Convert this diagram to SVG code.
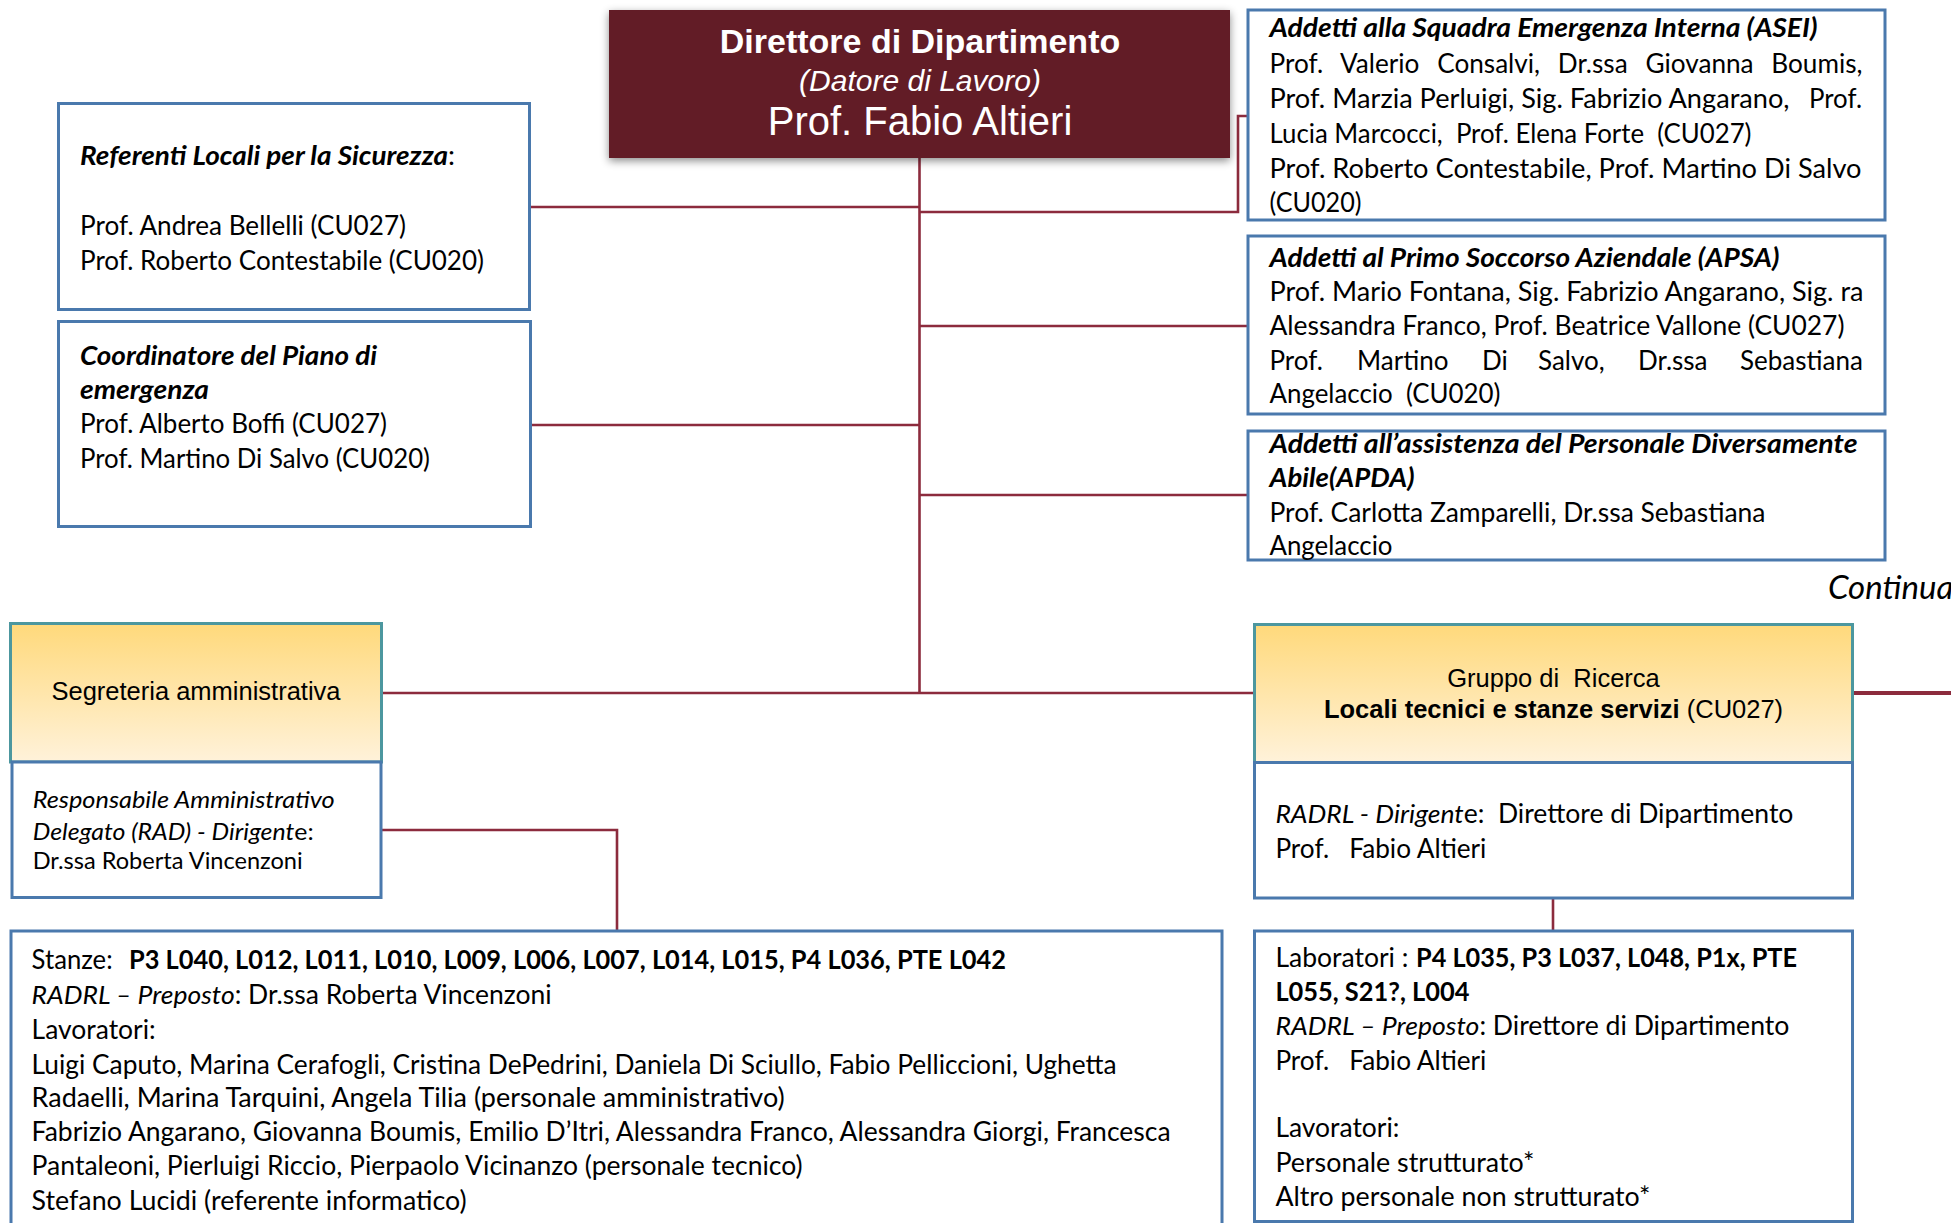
<svg xmlns="http://www.w3.org/2000/svg" width="1951" height="1223" viewBox="0 0 1951 1223">
<style>
.box{fill:#fff;stroke:#4A79AD;stroke-width:3}
.gbox{fill:url(#gold);stroke:#4C979F;stroke-width:3}
.con{fill:none;stroke:#8C2B3D;stroke-width:2.6}
.c{font-family:"Lato","Noto Sans",sans-serif;font-size:26px;fill:#000}
.cs{font-family:"Lato","Noto Sans",sans-serif;font-size:22.5px;fill:#000}
.a{font-family:"Liberation Sans",Arial,sans-serif;fill:#000}
.w{fill:#fff}
.b{font-weight:bold}
.i{font-style:italic}
.n{font-style:normal;font-weight:normal}
</style>
<defs>
<linearGradient id="gold" x1="0" y1="0" x2="0" y2="1">
<stop offset="0" stop-color="#FFD97B"/>
<stop offset="1" stop-color="#FFF2DA"/>
</linearGradient>
<filter id="sh" x="-10%" y="-20%" width="120%" height="150%">
<feDropShadow dx="0" dy="3" stdDeviation="4" flood-color="#000" flood-opacity="0.45"/>
</filter>
</defs>

<g id="connectors">
<path class="con" d="M919.5 158 V693"/>
<path class="con" d="M530 207 H919.5"/>
<path class="con" d="M919.5 212 H1238 V116 H1248"/>
<path class="con" d="M530 425 H919.5"/>
<path class="con" d="M919.5 326 H1248"/>
<path class="con" d="M919.5 495 H1248"/>
<path class="con" d="M382 693 H1254"/>
<path class="con" d="M381 830 H617 V931"/>
<path class="con" d="M1553 898 V931"/>
<path class="con" d="M1853 693 H1951" style="stroke-width:4"/>
</g>

<g id="direttore">
<rect x="609" y="10" width="621" height="148" fill="#621A28" filter="url(#sh)"/>
<text class="a w b" x="920" y="53" font-size="34" text-anchor="middle">Direttore di Dipartimento</text>
<text class="a w i" x="920" y="91" font-size="30" text-anchor="middle">(Datore di Lavoro)</text>
<text class="a w" x="920" y="135" font-size="40" text-anchor="middle">Prof. Fabio Altieri</text>
</g>

<g id="referenti">
<rect class="box" x="58.5" y="103.5" width="471" height="206"/>
<text class="c" x="80" y="165" textLength="375" lengthAdjust="spacingAndGlyphs"><tspan class="b i">Referenti Locali per la Sicurezza</tspan>:</text>
<text class="c" x="80" y="235" textLength="326" lengthAdjust="spacingAndGlyphs">Prof. Andrea Bellelli (CU027)</text>
<text class="c" x="80" y="270" textLength="404" lengthAdjust="spacingAndGlyphs">Prof. Roberto Contestabile (CU020)</text>
</g>

<g id="coordinatore">
<rect class="box" x="58.5" y="321.5" width="472" height="205"/>
<text class="c b i" x="80" y="365" textLength="297" lengthAdjust="spacingAndGlyphs">Coordinatore del Piano di</text>
<text class="c b i" x="80" y="399" textLength="129" lengthAdjust="spacingAndGlyphs">emergenza</text>
<text class="c" x="80" y="433" textLength="307" lengthAdjust="spacingAndGlyphs">Prof. Alberto Boffi (CU027)</text>
<text class="c" x="80" y="468" textLength="350" lengthAdjust="spacingAndGlyphs">Prof. Martino Di Salvo (CU020)</text>
</g>

<g id="asei">
<rect class="box" x="1248" y="10" width="637" height="210"/>
<text class="c b i" x="1269.5" y="37" textLength="548" lengthAdjust="spacingAndGlyphs">Addetti alla Squadra Emergenza Interna (ASEI)</text>
<text class="c" x="1269.5" y="73" style="word-spacing:11px" textLength="593" lengthAdjust="spacingAndGlyphs">Prof. Valerio Consalvi, Dr.ssa Giovanna Boumis,</text>
<text class="c" x="1269.5" y="108" textLength="520" lengthAdjust="spacingAndGlyphs">Prof. Marzia Perluigi, Sig. Fabrizio Angarano,</text>
<text class="c" x="1809" y="108" textLength="53" lengthAdjust="spacingAndGlyphs">Prof.</text>
<text class="c" x="1269.5" y="143" xml:space="preserve" textLength="482" lengthAdjust="spacingAndGlyphs">Lucia Marcocci,  Prof. Elena Forte  (CU027)</text>
<text class="c" x="1269.5" y="178" textLength="592" lengthAdjust="spacingAndGlyphs">Prof. Roberto Contestabile, Prof. Martino Di Salvo</text>
<text class="c" x="1269.5" y="212" textLength="92" lengthAdjust="spacingAndGlyphs">(CU020)</text>
</g>

<g id="apsa">
<rect class="box" x="1248" y="236" width="637" height="178"/>
<text class="c b i" x="1269.5" y="267" textLength="510" lengthAdjust="spacingAndGlyphs">Addetti al Primo Soccorso Aziendale (APSA)</text>
<text class="c" x="1269.5" y="301" textLength="594" lengthAdjust="spacingAndGlyphs">Prof. Mario Fontana, Sig. Fabrizio Angarano, Sig. ra</text>
<text class="c" x="1269.5" y="335" textLength="575" lengthAdjust="spacingAndGlyphs">Alessandra Franco, Prof. Beatrice Vallone (CU027)</text>
<text class="c" y="370"><tspan x="1269.5">Prof.</tspan><tspan x="1357">Martino</tspan><tspan x="1482">Di</tspan><tspan x="1538">Salvo,</tspan><tspan x="1638">Dr.ssa</tspan><tspan x="1740">Sebastiana</tspan></text>
<text class="c" x="1269.5" y="403" xml:space="preserve" textLength="231" lengthAdjust="spacingAndGlyphs">Angelaccio  (CU020)</text>
</g>

<g id="apda">
<rect class="box" x="1248" y="431" width="637" height="129"/>
<text class="c b i" x="1269.5" y="453" textLength="588" lengthAdjust="spacingAndGlyphs">Addetti all’assistenza del Personale Diversamente</text>
<text class="c b i" x="1269.5" y="487" textLength="145" lengthAdjust="spacingAndGlyphs">Abile(APDA)</text>
<text class="c" x="1269.5" y="522" textLength="496" lengthAdjust="spacingAndGlyphs">Prof. Carlotta Zamparelli, Dr.ssa Sebastiana</text>
<text class="c" x="1269.5" y="555" textLength="123" lengthAdjust="spacingAndGlyphs">Angelaccio</text>
</g>

<text id="continua" class="c i" x="1828" y="599" style="font-size:33px">Continua</text>

<g id="segreteria">
<rect class="gbox" x="10.5" y="623.5" width="371" height="138.5"/>
<text class="a" x="196" y="700" font-size="25.5" text-anchor="middle" textLength="289" lengthAdjust="spacingAndGlyphs">Segreteria amministrativa</text>
</g>

<g id="rad">
<rect class="box" x="12" y="762" width="369" height="135.5"/>
<text class="cs i" x="32.7" y="808" textLength="302" lengthAdjust="spacingAndGlyphs">Responsabile Amministrativo</text>
<text class="cs i" x="32.7" y="840" textLength="281" lengthAdjust="spacingAndGlyphs">Delegato (RAD) - Dirigent<tspan class="n">e:</tspan></text>
<text class="cs" x="32.7" y="869" textLength="270" lengthAdjust="spacingAndGlyphs">Dr.ssa Roberta Vincenzoni</text>
</g>

<g id="gruppo">
<rect class="gbox" x="1254.5" y="624.5" width="598" height="138"/>
<text class="a" x="1553.5" y="687" font-size="25.5" text-anchor="middle" xml:space="preserve">Gruppo di  Ricerca</text>
<text class="a" x="1553.5" y="718" font-size="25.5" text-anchor="middle"><tspan class="b">Locali tecnici e stanze servizi</tspan> (CU027)</text>
</g>

<g id="radrl">
<rect class="box" x="1254.5" y="762.5" width="598" height="135.5"/>
<text class="c" x="1275.4" y="823" xml:space="preserve" textLength="518" lengthAdjust="spacingAndGlyphs"><tspan class="i">RADRL - Dirigent</tspan>e:  Direttore di Dipartimento</text>
<text class="c" x="1275.4" y="858" xml:space="preserve" textLength="211" lengthAdjust="spacingAndGlyphs">Prof.   Fabio Altieri</text>
</g>

<g id="stanze">
<rect class="box" x="11" y="931" width="1211" height="320"/>
<text class="c" x="31.6" y="969" textLength="81" lengthAdjust="spacingAndGlyphs">Stanze:</text>
<text class="c b" x="129" y="969" textLength="877" lengthAdjust="spacingAndGlyphs">P3 L040, L012, L011, L010, L009, L006, L007, L014, L015, P4 L036, PTE L042</text>
<text class="c" x="31.6" y="1004" textLength="520" lengthAdjust="spacingAndGlyphs"><tspan class="i">RADRL – Preposto</tspan>: Dr.ssa Roberta Vincenzoni</text>
<text class="c" x="31.6" y="1039" textLength="124" lengthAdjust="spacingAndGlyphs">Lavoratori:</text>
<text class="c" x="31.6" y="1074" textLength="1085" lengthAdjust="spacingAndGlyphs">Luigi Caputo, Marina Cerafogli, Cristina DePedrini, Daniela Di Sciullo, Fabio Pelliccioni, Ughetta</text>
<text class="c" x="31.6" y="1107" textLength="753" lengthAdjust="spacingAndGlyphs">Radaelli, Marina Tarquini, Angela Tilia (personale amministrativo)</text>
<text class="c" x="31.6" y="1141" textLength="1139" lengthAdjust="spacingAndGlyphs">Fabrizio Angarano, Giovanna Boumis, Emilio D’Itri, Alessandra Franco, Alessandra Giorgi, Francesca</text>
<text class="c" x="31.6" y="1175" textLength="771" lengthAdjust="spacingAndGlyphs">Pantaleoni, Pierluigi Riccio, Pierpaolo Vicinanzo (personale tecnico)</text>
<text class="c" x="31.6" y="1210" textLength="435" lengthAdjust="spacingAndGlyphs">Stefano Lucidi (referente informatico)</text>
</g>

<g id="laboratori">
<rect class="box" x="1254.5" y="931" width="598" height="290.5"/>
<text class="c" x="1275.4" y="967" textLength="133" lengthAdjust="spacingAndGlyphs">Laboratori :</text>
<text class="c b" x="1416" y="967" textLength="381" lengthAdjust="spacingAndGlyphs">P4 L035, P3 L037, L048, P1x, PTE</text>
<text class="c b" x="1275.4" y="1001" textLength="194" lengthAdjust="spacingAndGlyphs">L055, S21?, L004</text>
<text class="c" x="1275.4" y="1035" textLength="514" lengthAdjust="spacingAndGlyphs"><tspan class="i">RADRL – Preposto</tspan>: Direttore di Dipartimento</text>
<text class="c" x="1275.4" y="1070" xml:space="preserve" textLength="211" lengthAdjust="spacingAndGlyphs">Prof.   Fabio Altieri</text>
<text class="c" x="1275.4" y="1137" textLength="124" lengthAdjust="spacingAndGlyphs">Lavoratori:</text>
<text class="c" x="1275.4" y="1172" textLength="259" lengthAdjust="spacingAndGlyphs">Personale strutturato*</text>
<text class="c" x="1275.4" y="1206" textLength="375" lengthAdjust="spacingAndGlyphs">Altro personale non strutturato*</text>
</g>
</svg>
